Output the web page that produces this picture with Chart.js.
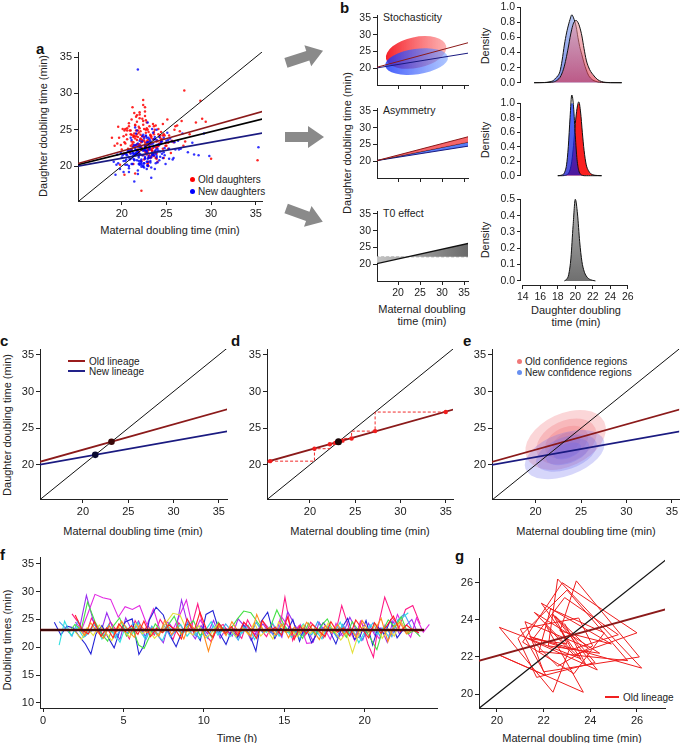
<!DOCTYPE html>
<html lang="en">
<head>
<meta charset="UTF-8">
<title>Doubling time inheritance</title>
<script src="https://cdn.jsdelivr.net/npm/chart.js"></script>
<style>
  * { margin: 0; padding: 0; box-sizing: border-box; }
  body { background: #fff; font-family: "Liberation Sans", Arial, Helvetica, sans-serif; color: #222; }
  #fig { position: relative; width: 680px; height: 743px; overflow: hidden; background: #fff; }
  #fig canvas { position: absolute; }
  .t { position: absolute; white-space: nowrap; font-size: 11px; line-height: 1; transform: translate(-50%, -50%); }
  .rot { transform: translate(-50%, -50%) rotate(-90deg); }
  .l { position: absolute; white-space: nowrap; font-size: 10.5px; line-height: 1; transform: translateY(-50%); }
  .tag { position: absolute; font-weight: bold; font-size: 15px; line-height: 1; color: #111; }
  .leg { position: absolute; white-space: nowrap; font-size: 10px; line-height: 1; transform: translateY(-50%); }
  .dot { display: inline-block; width: 5px; height: 5px; border-radius: 50%; margin-right: 3px; vertical-align: 1px; }
  .sw { display: inline-block; width: 17px; height: 2px; margin-right: 4px; vertical-align: 3px; }
</style>
</head>
<body>
<div id="fig">
  <svg width="680" height="743" style="position:absolute;left:0;top:0">
    <g fill="#8a8a8a">
      <polygon transform="rotate(-18 304 57)" points="285,52 308,52 308,46 324,57 308,68 308,62 285,62"/>
      <polygon points="285,132 308,132 308,126 324,137 308,148 308,142 285,142"/>
      <polygon transform="rotate(20 304 215)" points="285,210 308,210 308,204 324,215 308,226 308,220 285,220"/>
    </g>
  </svg>

  <!-- panel letters -->
  <div class="tag" style="left:36px;top:41px">a</div>
  <div class="tag" style="left:340px;top:0px">b</div>
  <div class="tag" style="left:0px;top:333px">c</div>
  <div class="tag" style="left:231px;top:333px">d</div>
  <div class="tag" style="left:463px;top:333px">e</div>
  <div class="tag" style="left:0px;top:547px">f</div>
  <div class="tag" style="left:455px;top:548px">g</div>

  <!-- axis titles -->
  <div class="t rot" style="left:43px;top:126px">Daughter doubling time (min)</div>
  <div class="t" style="left:170px;top:230px">Maternal doubling time (min)</div>
  <div class="t rot" style="left:347px;top:143px">Daughter doubling time (min)</div>
  <div class="t" style="left:422px;top:309px">Maternal doubling</div>
  <div class="t" style="left:422px;top:321px">time (min)</div>
  <div class="t rot" style="left:485px;top:46px">Density</div>
  <div class="t rot" style="left:485px;top:140px">Density</div>
  <div class="t rot" style="left:485px;top:240px">Density</div>
  <div class="t" style="left:576px;top:310px">Daughter doubling</div>
  <div class="t" style="left:576px;top:322px">time (min)</div>
  <div class="t rot" style="left:7px;top:425px">Daughter doubling time (min)</div>
  <div class="t" style="left:133px;top:531px">Maternal doubling time (min)</div>
  <div class="t" style="left:360px;top:531px">Maternal doubling time (min)</div>
  <div class="t" style="left:586px;top:531px">Maternal doubling time (min)</div>
  <div class="t rot" style="left:7px;top:640px">Doubling times (min)</div>
  <div class="t" style="left:237px;top:738px">Time (h)</div>
  <div class="t" style="left:572px;top:738px">Maternal doubling time (min)</div>

  <!-- in-plot titles -->
  <div class="l" style="left:383px;top:17px">Stochasticity</div>
  <div class="l" style="left:383px;top:110px">Asymmetry</div>
  <div class="l" style="left:383px;top:213px">T0 effect</div>

  <!-- legends -->
  <div class="leg" style="left:190px;top:180px"><span class="dot" style="background:#f00"></span>Old daughters</div>
  <div class="leg" style="left:190px;top:192px"><span class="dot" style="background:#00f"></span>New daughters</div>
  <div class="leg" style="left:68px;top:362px"><span class="sw" style="background:#9a1c1c"></span>Old lineage</div>
  <div class="leg" style="left:68px;top:372px"><span class="sw" style="background:#22228a"></span>New lineage</div>
  <div class="leg" style="left:517px;top:362px"><span class="dot" style="background:#f07878"></span>Old confidence regions</div>
  <div class="leg" style="left:517px;top:373px"><span class="dot" style="background:#6890f0"></span>New confidence regions</div>
  <div class="leg" style="left:605px;top:698px"><span class="sw" style="background:#f02020;width:14px"></span>Old lineage</div>
</div>

<script>
// ---------- data ----------
const axisEnds = [15, 36];

// panel a: single-cell doubling times (maternal x, daughter y)
const aOldX = [21.3, 22.8, 23.5, 20.9, 24.1, 22.2, 25.3, 21.7, 23.0, 22.5, 19.8, 24.6, 23.8, 21.1, 22.9, 26.2, 20.4, 23.3, 22.0, 24.9,
  21.9, 23.6, 20.7, 22.4, 25.8, 23.1, 21.5, 24.3, 22.7, 19.5, 23.9, 21.2, 22.6, 27.1, 20.2, 24.0, 22.1, 23.4, 21.0, 25.1,
  22.3, 20.8, 23.7, 24.7, 21.6, 22.9, 19.2, 23.2, 26.7, 21.4, 22.8, 24.4, 20.6, 23.5, 21.8, 25.5, 22.5, 20.1, 23.9, 28.3,
  22.0, 24.2, 21.3, 23.0, 19.9, 22.6, 25.0, 21.7, 23.6, 20.5, 24.8, 22.2, 21.1, 23.3, 26.0, 22.7, 20.3, 24.5, 21.9, 29.4,
  23.1, 21.6, 22.4, 24.1, 20.0, 23.8, 22.9, 21.2, 25.6, 22.1, 23.4, 20.9, 24.0, 21.5, 22.8, 27.6, 19.6, 23.7, 22.3, 21.0,
  24.3, 22.5, 20.6, 23.2, 21.8, 25.2, 22.0, 23.9, 21.4, 24.7, 18.9, 22.6, 23.5, 26.5, 21.1, 22.9, 20.4, 24.4, 23.0, 29.0,
  21.7, 23.3, 22.2, 20.8, 24.6, 22.7, 21.3, 25.9, 23.6, 20.2, 22.4, 24.9, 21.9, 23.1, 19.7, 26.9, 22.8, 35.2, 30.0, 28.8,
  27.0, 22.2, 20.3, 21.5,
  22.1, 22.9, 21.8, 23.4, 22.6, 21.5, 23.1, 22.3, 24.0, 21.9, 22.7, 23.6, 21.2, 22.4, 23.0, 22.0, 23.8, 21.7, 22.8, 23.3,
  22.5, 21.4, 23.7, 22.2, 22.9, 21.6, 23.2, 24.3, 22.6, 21.9, 23.5, 22.1, 20.9, 22.8, 23.9, 21.3, 22.4, 23.1, 21.8, 22.7,
  24.6, 22.0, 21.1, 23.4, 22.5, 20.6, 23.0, 22.3, 24.1, 21.5, 22.9, 23.6, 21.0, 22.2, 25.2, 21.7, 23.3, 22.6, 20.3, 24.4];
const aOldY = [23.3, 21.8, 25.8, 22.0, 25.1, 20.7, 24.2, 26.1, 22.2, 24.0, 20.2, 24.2, 25.6, 22.2, 20.4, 25.6, 23.1, 22.2, 27.1, 23.2,
  24.6, 21.8, 22.4, 25.7, 23.3, 21.2, 25.7, 24.2, 22.7, 23.1, 21.0, 22.7, 28.1, 23.4, 24.1, 22.7, 24.3, 21.6, 22.8, 26.4,
  22.4, 25.9, 22.0, 24.4, 24.9, 20.2, 22.8, 23.1, 26.2, 27.3, 21.6, 23.6, 25.2, 22.5, 24.0, 21.8, 23.5, 25.1, 21.7, 26.0,
  25.2, 23.1, 24.2, 20.6, 22.9, 26.9, 22.8, 23.0, 21.4, 24.3, 24.2, 22.2, 26.4, 21.2, 25.5, 21.8, 24.9, 23.7, 21.8, 26.1,
  21.5, 24.1, 26.2, 22.8, 22.3, 21.1, 25.0, 28.1, 23.5, 23.7, 22.1, 24.9, 20.6, 23.8, 23.4, 24.4, 25.4, 21.9, 23.6, 24.4,
  23.9, 20.9, 24.9, 24.3, 22.1, 22.4, 26.6, 23.4, 24.1, 21.1, 23.9, 27.5, 21.5, 24.8, 23.4, 22.2, 25.1, 23.4, 20.0, 26.5,
  24.4, 22.4, 23.4, 25.5, 22.4, 25.0, 20.3, 25.0, 24.7, 21.7, 29.1, 22.8, 22.9, 25.5, 23.9, 22.8, 22.9, 20.8, 21.0, 29.0,
  30.4, 16.6, 18.8, 19.0,
  23.8, 22.4, 24.9, 21.7, 23.2, 25.6, 22.9, 24.1, 23.5, 22.0, 26.3, 24.4, 23.0, 21.5, 24.7, 27.4, 22.6, 23.6, 25.2, 23.9,
  22.2, 24.5, 25.0, 23.3, 21.9, 26.8, 24.2, 23.1, 22.7, 25.4, 23.7, 24.8, 21.8, 26.0, 22.5, 24.0, 28.4, 23.4, 22.3, 24.6,
  25.8, 23.0, 24.3, 22.1, 25.1, 23.7, 21.2, 26.5, 24.4, 22.8, 23.6, 25.5, 24.9, 22.6, 23.2, 27.0, 24.1, 22.0, 23.3, 24.7];
const aNewX = [22.4, 21.1, 23.7, 20.5, 24.2, 22.9, 21.6, 25.1, 23.2, 19.9, 22.0, 24.8, 21.4, 23.5, 20.8, 26.3, 22.6, 21.9, 23.9, 20.2,
  24.5, 22.2, 21.3, 23.1, 19.6, 25.7, 22.8, 21.0, 23.8, 20.7, 22.5, 24.0, 21.7, 27.4, 23.3, 20.4, 22.1, 25.3, 21.5, 23.6,
  20.9, 22.7, 24.6, 21.2, 23.0, 19.3, 22.3, 26.0, 21.8, 23.4, 20.6, 24.3, 22.0, 21.4, 25.9, 22.9, 20.1, 23.7, 28.1, 21.6,
  23.2, 21.0, 22.6, 24.9, 20.3, 22.4, 23.9, 21.7, 19.8, 25.4, 22.8, 21.3, 23.5, 20.8, 24.1, 22.2, 26.8, 21.9, 23.0, 20.5,
  22.5, 24.4, 21.1, 23.3, 20.0, 22.9, 25.0, 21.5, 23.6, 19.5, 22.1, 24.7, 21.8, 23.1, 20.6, 26.4, 22.7, 21.2, 24.0, 29.2,
  21.4, 23.8, 22.3, 20.7, 24.5, 22.0, 21.0, 23.4, 25.6, 20.2, 22.8, 21.6, 23.2, 27.9, 22.5, 19.4, 24.2, 21.9, 23.7, 20.9,
  22.6, 24.8, 21.3, 23.0, 20.4, 25.2, 22.2, 21.7, 23.9, 19.1, 22.9, 24.3, 21.5, 28.6, 23.5, 20.8, 26.6, 35.3, 21.8, 29.8,
  21.8, 21.4, 23.3,
  22.3, 23.1, 21.7, 22.8, 23.6, 21.9, 22.5, 24.1, 22.0, 23.3, 21.4, 22.7, 23.9, 22.2, 21.6, 23.0, 22.6, 24.4, 21.8, 22.9,
  23.5, 22.1, 21.2, 22.4, 23.8, 22.6, 21.5, 23.2, 22.9, 24.7, 22.0, 21.9, 23.4, 22.3, 20.8, 22.8, 23.7, 21.7, 22.5, 25.3,
  22.2, 23.0, 21.3, 24.0, 22.7, 21.8, 23.5, 22.4, 20.5, 23.1, 22.6, 24.2, 21.6, 22.9, 23.3, 21.1, 22.1, 25.8, 22.8, 23.9];
const aNewY = [22.1, 20.3, 23.7, 20.9, 22.9, 20.1, 21.6, 24.6, 21.1, 21.8, 20.2, 22.5, 22.9, 21.7, 19.2, 23.5, 22.2, 20.7, 25.0, 20.7,
  23.4, 20.4, 21.5, 23.7, 20.4, 20.9, 23.9, 21.7, 21.7, 22.1, 19.8, 22.0, 24.9, 21.9, 23.2, 20.7, 22.6, 21.0, 21.7, 23.7,
  20.9, 24.2, 21.1, 21.8, 23.3, 18.8, 22.3, 22.3, 22.7, 25.1, 20.2, 22.0, 23.5, 20.8, 23.3, 20.1, 21.5, 24.0, 21.6, 22.2,
  23.5, 21.0, 22.8, 20.3, 21.7, 24.3, 21.2, 21.6, 19.6, 23.8, 22.1, 21.0, 24.6, 19.7, 23.0, 20.6, 24.5, 21.6, 21.1, 21.8,
  20.4, 23.1, 23.6, 21.3, 21.2, 20.0, 23.5, 25.3, 21.5, 21.6, 20.7, 23.9, 19.4, 22.5, 21.5, 22.3, 24.1, 20.3, 22.4, 24.5,
  21.6, 20.4, 23.4, 22.0, 21.7, 20.4, 23.9, 21.8, 23.4, 19.2, 23.2, 24.5, 20.5, 23.2, 22.3, 20.2, 24.0, 21.4, 19.6, 22.2,
  22.8, 21.5, 21.8, 23.9, 20.2, 23.6, 19.9, 22.0, 22.9, 20.6, 26.0, 21.3, 21.5, 21.5, 23.1, 20.0, 22.4, 22.6, 18.9, 21.4,
  33.3, 17.9, 18.4,
  21.5, 22.3, 20.8, 21.9, 22.7, 21.2, 20.4, 22.1, 21.7, 23.0, 20.9, 22.5, 21.4, 20.2, 21.8, 22.9, 21.1, 23.4, 22.0, 20.6,
  21.6, 22.8, 21.3, 19.9, 22.2, 21.0, 22.4, 20.7, 23.3, 21.9, 22.6, 20.3, 21.5, 24.1, 21.2, 19.6, 22.0, 21.7, 23.8, 22.4,
  20.9, 21.4, 22.7, 20.5, 22.1, 23.1, 21.8, 20.1, 21.6, 22.5, 21.3, 20.8, 22.9, 21.0, 19.8, 22.2, 21.6, 21.1, 20.6, 23.6];
const aOldFit = [20.33, 27.6];
const aAllFit = [20.17, 26.55];
const aNewFit = [19.98, 24.6];

// panel b, left column
const stochOldFit = [20.23, 27.64];
const stochNewFit = [20.06, 24.52];
const stochCx = [24.1, 24.2];
const stochCy = [24.7, 22.0];
const stochRx = [7.0, 7.2];
const stochRy = [4.6, 3.8];
const stochTilt = [-12, -8];
const asymOldFit = [20.13, 27.33];
const asymMidFit = [20.15, 25.73];
const asymNewFit = [20.16, 24.52];
const t0Fit = [20.14, 26.23];
const t0Level = [22.2, 22.2];

// panel b, right column: densities of daughter doubling time
const dens1X = [15.3, 16.5, 17.0, 17.5, 17.75, 18.0, 18.25, 18.5, 18.75, 19.0, 19.25, 19.4, 19.6, 19.8, 20.1, 20.3, 20.5, 20.75, 21.0, 21.25, 21.5, 21.75, 22.0, 22.5, 23.0, 23.5, 24.0, 25.3];
const dens1New = [0, 0.003, 0.01, 0.03, 0.06, 0.09, 0.15, 0.3, 0.5, 0.66, 0.78, 0.84, 0.9, 0.86, 0.74, 0.6, 0.48, 0.37, 0.26, 0.17, 0.1, 0.06, 0.035, 0.012, 0.004, 0.001, 0, 0];
const dens1Old = [0, 0.001, 0.004, 0.01, 0.02, 0.04, 0.07, 0.13, 0.22, 0.35, 0.5, 0.6, 0.71, 0.79, 0.825, 0.8, 0.74, 0.62, 0.45, 0.3, 0.21, 0.15, 0.11, 0.045, 0.015, 0.004, 0.001, 0];
const dens2X = [18.0, 18.5, 18.75, 19.0, 19.2, 19.4, 19.6, 19.8, 20.0, 20.2, 20.4, 20.6, 20.8, 21.0, 21.25, 21.5, 21.75, 22.0, 22.5, 23.0];
const dens2New = [0, 0.01, 0.04, 0.15, 0.4, 0.8, 1.12, 0.95, 0.55, 0.22, 0.07, 0.02, 0.005, 0, 0, 0, 0, 0, 0, 0];
const dens2Old = [0, 0, 0.002, 0.01, 0.03, 0.08, 0.2, 0.42, 0.72, 0.93, 1.02, 0.88, 0.6, 0.35, 0.15, 0.07, 0.03, 0.012, 0.003, 0];
const dens3X = [18.75, 19.0, 19.25, 19.5, 19.75, 20.0, 20.25, 20.5, 20.75, 21.0, 21.25, 21.5, 21.75, 22.0, 22.3];
const dens3 = [0, 0.01, 0.04, 0.14, 0.34, 0.5, 0.41, 0.24, 0.12, 0.06, 0.03, 0.015, 0.007, 0.003, 0];

// panels c-e: lineage fits
const oldLine = [20.33, 27.6];
const newLine = [19.96, 24.58];
const fixedX = [23.15, 21.36];
const cobLeftX = [15.6, 20.5, 20.5, 22.2, 22.2, 22.8, 22.8];
const cobLeftY = [20.5, 20.5, 22.2, 22.2, 22.8, 22.8, 23.0];
const cobRightX = [35.0, 27.2, 27.2, 24.6, 24.6, 23.6, 23.6];
const cobRightY = [27.2, 27.2, 24.6, 24.6, 23.6, 23.6, 23.3];
const cobDotX = [15.6, 20.5, 22.2, 22.8, 23.6, 24.6, 27.2, 35.0];
const cobDotY = [20.5, 22.2, 22.8, 23.0, 23.3, 23.6, 24.6, 27.2];
const eOldCx = [23.3, 23.4, 23.4, 23.4];
const eOldCy = [23.4, 23.2, 23.1, 23.0];
const eOldRx = [4.7, 3.5, 2.5, 1.6];
const eOldRy = [3.6, 2.8, 2.0, 1.3];
const eOldTilt = [-25, -25, -25, -25];
const eNewCx = [23.2, 23.4, 23.5, 23.5];
const eNewCy = [21.4, 21.6, 21.8, 21.9];
const eNewRx = [4.6, 3.5, 2.5, 1.6];
const eNewRy = [2.9, 2.2, 1.6, 1.0];
const eNewTilt = [-20, -20, -20, -20];

// panel f: doubling times along lineages (start time in h, then successive doubling times in min)
const fStarts = [2.0, 2.2, 2.0, 1.6, 1.0, 1.0, 0.7, 2.3, 2.0, 1.8];
const fRed = [25.8, 23.1, 22.4, 24.6, 22.0, 23.5, 21.7, 24.2, 22.8, 23.9, 22.3, 24.7, 21.9, 23.4, 22.6, 24.0, 23.2, 21.5, 25.1, 22.7, 26.3, 23.0, 21.8, 24.3, 22.5, 23.7, 22.1, 24.5, 23.3, 21.6, 24.8, 22.9, 23.6, 22.2, 25.4, 21.4, 23.8, 22.4, 24.1, 23.0, 21.9, 24.6, 22.7, 23.5, 22.0, 24.9, 23.2, 21.7, 24.4, 22.5, 23.9, 25.6, 22.8, 24.0, 23.1, 22.6];
const fOrange = [23.5, 22.1, 24.4, 22.8, 21.6, 23.9, 22.5, 24.7, 23.0, 21.8, 24.1, 22.6, 23.4, 22.0, 24.9, 22.3, 23.7, 21.5, 24.3, 22.9, 23.2, 19.3, 22.4, 23.8, 22.1, 24.6, 22.7, 23.3, 21.9, 25.9, 22.8, 23.5, 22.2, 24.2, 21.7, 23.6, 22.5, 24.5, 23.0, 21.4, 23.9, 22.6, 24.1, 22.3, 23.4, 21.8, 24.8, 22.9, 23.1, 25.2, 21.0, 23.7, 24.5, 22.4, 23.2];
const fYellow = [22.8, 21.4, 23.5, 22.1, 24.0, 22.6, 21.2, 23.7, 22.9, 21.8, 24.2, 22.4, 23.3, 21.6, 22.7, 24.5, 26.1, 25.8, 23.0, 22.2, 23.9, 21.7, 22.5, 24.1, 22.8, 23.4, 21.9, 23.6, 22.3, 24.4, 22.0, 23.2, 21.5, 24.6, 22.7, 23.1, 21.9, 24.0, 22.4, 23.5, 22.1, 24.3, 22.9, 21.3, 22.6, 19.0, 21.8, 23.7, 22.5, 24.2, 21.6, 23.3, 22.0, 24.8, 22.7, 23.4];
const fGreen = [22.6, 24.1, 23.2, 28.1, 24.6, 22.4, 21.1, 23.8, 25.3, 22.0, 23.5, 20.4, 19.8, 21.9, 24.2, 22.7, 23.9, 25.6, 22.3, 23.6, 24.8, 22.1, 23.4, 21.7, 24.5, 22.9, 23.3, 25.0, 26.5, 26.2, 24.4, 22.8, 23.7, 26.7, 24.0, 22.5, 23.1, 21.6, 24.3, 22.2, 23.8, 25.1, 22.6, 23.5, 21.8, 24.6, 22.9, 23.2, 21.4, 19.6, 22.8, 24.9, 23.6, 25.5, 22.4, 23.0, 21.9];
const fCyan = [20.4, 24.7, 22.1, 23.6, 21.8, 22.9, 24.3, 21.5, 23.2, 22.6, 20.9, 23.8, 22.3, 24.5, 21.7, 23.0, 22.4, 21.2, 23.7, 22.8, 24.1, 22.0, 23.4, 21.6, 22.9, 24.6, 22.2, 23.5, 21.9, 23.1, 22.5, 24.0, 21.4, 23.3, 22.7, 24.4, 22.0, 23.6, 21.8, 22.9, 24.2, 22.4, 23.0, 21.5, 23.8, 22.6, 24.5, 21.9, 23.2, 20.8, 22.7, 24.0, 22.3, 23.5, 21.7, 24.3, 25.2, 26.2];
const fSky = [24.6, 23.4, 22.0, 24.8, 21.9, 22.8, 23.6, 22.2, 24.1, 21.7, 23.3, 22.5, 24.4, 22.9, 21.4, 23.8, 22.3, 24.0, 21.8, 23.1, 22.6, 24.7, 22.1, 23.5, 21.6, 23.9, 22.4, 24.2, 22.8, 21.3, 23.7, 22.0, 24.5, 22.6, 23.2, 21.9, 24.3, 22.7, 23.4, 21.5, 23.0, 22.2, 24.6, 22.9, 23.6, 21.8, 24.1, 22.4, 23.3, 21.2, 22.8, 24.4, 22.1, 23.7, 21.9, 24.9, 26.0, 23.5];
const fBlue = [24.5, 22.2, 23.8, 23.5, 21.9, 20.6, 18.8, 22.4, 23.9, 21.7, 19.9, 22.8, 24.6, 25.1, 18.7, 20.3, 24.9, 27.2, 25.8, 22.0, 20.1, 22.6, 24.3, 23.1, 21.2, 25.9, 26.6, 22.4, 20.5, 23.0, 21.8, 24.0, 22.1, 19.3, 24.6, 26.3, 21.6, 23.4, 22.7, 25.0, 21.1, 23.9, 20.8, 22.5, 24.4, 22.9, 20.6, 23.3, 25.2, 21.4, 22.0, 24.8, 20.4, 23.6, 22.3, 24.9, 21.7, 23.1, 22.5];
const fPurple = [23.8, 29.3, 24.1, 22.6, 26.2, 23.0, 21.4, 25.3, 22.8, 24.7, 21.9, 23.5, 22.2, 20.8, 24.4, 22.7, 28.5, 23.1, 21.5, 23.9, 22.4, 24.8, 21.6, 23.3, 22.0, 25.1, 23.7, 21.2, 22.9, 24.2, 22.5, 23.6, 21.8, 26.4, 24.0, 22.3, 23.2, 21.0, 24.5, 22.6, 23.4, 21.7, 22.8, 25.4, 23.0, 21.3, 24.3, 22.1, 23.5, 20.9, 24.7, 22.4, 23.8, 25.0, 22.2];
const fMagenta = [24.5, 23.2, 26.1, 29.5, 28.9, 28.6, 25.4, 27.3, 26.8, 27.5, 24.0, 26.9, 22.7, 24.6, 23.3, 25.7, 28.5, 22.4, 24.9, 23.1, 21.6, 24.2, 22.8, 23.7, 21.9, 24.5, 23.0, 22.2, 24.8, 23.4, 21.7, 25.6, 23.9, 22.5, 24.1, 20.7, 20.8, 22.9, 23.6, 21.4, 24.3, 22.0, 23.5, 21.2, 24.7, 22.6, 23.1, 21.5, 24.0, 22.3, 25.9, 23.4, 21.8, 25.3, 22.7, 24.1];
const fPink = [26.0, 24.3, 22.1, 25.2, 23.4, 21.8, 24.6, 22.9, 23.7, 21.5, 24.8, 22.6, 23.9, 22.2, 25.0, 23.1, 21.4, 24.4, 22.7, 23.6, 27.8, 22.3, 21.0, 23.5, 24.1, 22.4, 23.0, 21.6, 24.9, 22.8, 23.3, 21.9, 24.2, 22.5, 29.0, 21.2, 23.8, 22.0, 24.5, 23.2, 21.7, 24.0, 22.6, 27.5, 23.4, 22.1, 24.7, 20.6, 18.2, 23.9, 29.0, 25.3, 23.6, 26.8, 27.5, 24.2];
const fMean = [23.1, 23.1];
const fMeanX = [-0.2, 23.7];

// panel g: successive doubling times of one old lineage
const gOld = [22.9, 23.8, 21.6, 24.4, 22.2, 22.6, 26.2, 21.4, 23.1, 22.4, 20.1, 23.6, 21.9, 24.9, 22.7, 23.4, 26.1, 22.0, 21.2, 23.9, 22.5, 24.2, 21.7, 20.9, 23.0, 25.6, 21.8, 22.3, 24.6, 23.3, 21.1, 22.8, 26.0, 23.3, 22.1, 23.7, 20.1, 22.1, 21.0, 23.5, 24.1, 22.6, 21.5, 22.9, 25.2, 23.2, 22.4, 24.3, 21.3, 23.0, 22.7, 23.6];

// ---------- drawing ----------
const FONT = '"Liberation Sans", Arial, Helvetica, sans-serif';
const INK = '#222';
Chart.defaults.font.family = FONT;
Chart.defaults.color = INK;

const pts = (xs, ys) => xs.map((x, i) => ({ x, y: ys[i] }));
const line = (data, color, width, extra = {}) => Object.assign({
  data, showLine: true, borderColor: color, borderWidth: width, pointRadius: 0, fill: false, order: 1
}, extra);

function axis(min, max, ticks, o = {}) {
  return {
    type: 'linear', min, max,
    display: o.display !== false,
    afterBuildTicks: s => { s.ticks = ticks.map(v => ({ value: v })); },
    ticks: {
      display: o.labels !== false, color: INK, padding: 2, autoSkip: false, maxRotation: 0,
      font: { size: o.size || 11 }, callback: o.fmt || (v => v)
    },
    grid: { drawOnChartArea: false, drawTicks: true, tickLength: 4, color: INK, lineWidth: 1 },
    border: { display: o.border !== false, color: INK, width: 1 }
  };
}

// draws an axis line only between the first and last tick (R style)
const spanAxis = {
  id: 'spanAxis',
  afterDraw(chart) {
    const { ctx, chartArea: a } = chart;
    ctx.save();
    ctx.strokeStyle = INK; ctx.lineWidth = 1;
    ['x', 'y'].forEach(k => {
      const s = chart.scales[k];
      if (!s.options.display || s.options.border.display) return;
      const first = s.getPixelForValue(s.ticks[0].value), last = s.getPixelForValue(s.ticks[s.ticks.length - 1].value);
      ctx.beginPath();
      if (k === 'y') { ctx.moveTo(a.left - 0.5, first); ctx.lineTo(a.left - 0.5, last); }
      else { ctx.moveTo(first, a.bottom + 0.5); ctx.lineTo(last, a.bottom + 0.5); }
      ctx.stroke();
    });
    ctx.restore();
  }
};

function ellipses(cx, cy, rx, ry, tilt, fillFor) {
  return {
    id: 'ellipses',
    beforeDatasetsDraw(chart) {
      const { ctx, chartArea: a, scales: { x, y } } = chart;
      ctx.save();
      ctx.beginPath(); ctx.rect(a.left, a.top, a.width, a.height); ctx.clip();
      cx.forEach((v, i) => {
        const px = x.getPixelForValue(v), py = y.getPixelForValue(cy[i]);
        const rpx = Math.abs(x.getPixelForValue(v + rx[i]) - px), rpy = Math.abs(y.getPixelForValue(cy[i] + ry[i]) - py);
        ctx.beginPath();
        ctx.ellipse(px, py, rpx, rpy, tilt[i] * Math.PI / 180, 0, 2 * Math.PI);
        ctx.fillStyle = fillFor(ctx, i, px, py, rpx, rpy);
        ctx.fill();
      });
      ctx.restore();
    }
  };
}

function panel(area, m, datasets, x, y, plugins = []) {
  const cv = document.createElement('canvas');
  const w = area.r - area.l + m.l + m.r, h = area.b - area.t + m.t + m.b;
  cv.width = w; cv.height = h;
  cv.style.left = (area.l - m.l) + 'px'; cv.style.top = (area.t - m.t) + 'px';
  cv.style.width = w + 'px'; cv.style.height = h + 'px';
  document.getElementById('fig').appendChild(cv);
  if (x.display !== false) x.afterFit = s => { s.height = m.b; };
  if (y.display !== false) y.afterFit = s => { s.width = m.l; };
  return new Chart(cv, {
    type: 'scatter',
    data: { datasets },
    options: {
      responsive: false, animation: false, devicePixelRatio: 1,
      layout: { autoPadding: false, padding: { top: m.t, right: m.r, left: y.display === false ? m.l : 0, bottom: x.display === false ? m.b : 0 } },
      plugins: { legend: { display: false }, tooltip: { enabled: false } },
      scales: { x, y }
    },
    plugins: [spanAxis, ...plugins]
  });
}

const M = { l: 40, t: 10, r: 12, b: 24 };
const T5 = [20, 25, 30, 35];
const diag = line(pts(axisEnds, axisEnds), '#111', 1);
const OLD_C = '#8b1a1a', NEW_C = '#1a1a80';

// ---- a ----
panel({ l: 78, r: 262, t: 52, b: 201 }, M, [
  diag,
  line(pts(axisEnds, aOldFit), OLD_C, 1.6),
  line(pts(axisEnds, aAllFit), '#000', 1.6),
  line(pts(axisEnds, aNewFit), NEW_C, 1.6),
  { data: pts(aOldX, aOldY), pointRadius: 1.25, pointBackgroundColor: 'rgba(255,0,0,0.85)', pointBorderWidth: 0, order: 6 },
  { data: pts(aNewX, aNewY), pointRadius: 1.25, pointBackgroundColor: 'rgba(0,0,255,0.8)', pointBorderWidth: 0, order: 5 }
], axis(15.1, 35.7, T5), axis(15.2, 35.7, T5));

// ---- b, left column ----
const BM = { l: 30, t: 6, r: 8, b: 20 };
const bx = labels => axis(15.2, 35.9, T5, { labels, size: 10.5 });
const by = () => axis(15, 35.8, T5, { size: 10.5 });
const stochFill = (ctx, i, px, py, rx) => {
  const g = ctx.createLinearGradient(px - rx, 0, px + rx, 0);
  if (i === 0) { g.addColorStop(0, 'rgba(245,20,30,0.95)'); g.addColorStop(1, 'rgba(252,160,160,0.8)'); }
  else { g.addColorStop(0, 'rgba(20,50,250,0.8)'); g.addColorStop(1, 'rgba(120,160,255,0.6)'); }
  return g;
};
panel({ l: 377, r: 468, t: 13, b: 85 }, BM, [
  line(pts(axisEnds, stochOldFit), OLD_C, 1),
  line(pts(axisEnds, stochNewFit), NEW_C, 1)
], bx(false), by(), [ellipses(stochCx, stochCy, stochRx, stochRy, stochTilt, stochFill)]);

panel({ l: 377, r: 468, t: 106, b: 178 }, BM, [
  line(pts(axisEnds, asymOldFit), OLD_C, 1, { fill: { target: 1 }, backgroundColor: 'rgba(245,85,90,0.9)' }),
  line(pts(axisEnds, asymMidFit), '#1a1020', 1),
  line(pts(axisEnds, asymNewFit), NEW_C, 1, { fill: { target: 1 }, backgroundColor: 'rgba(70,110,245,0.9)' })
], bx(false), by());

const grayGrad = c => {
  const a = c.chart.chartArea; if (!a) return '#999';
  const g = c.chart.ctx.createLinearGradient(a.left, 0, a.right, 0);
  g.addColorStop(0, '#c4c4c4'); g.addColorStop(1, '#6a6a6a');
  return g;
};
panel({ l: 377, r: 468, t: 209, b: 281 }, BM, [
  line(pts(axisEnds, t0Fit), '#111', 1.3, { fill: { target: 1 }, backgroundColor: grayGrad }),
  line(pts(axisEnds, t0Level), '#aaa', 1, { borderDash: [3, 2] })
], bx(true), by());

// ---- b, right column: densities ----
const DM = { l: 36, t: 8, r: 10, b: 6 };
const vGrad = (top, bottom) => c => {
  const a = c.chart.chartArea; if (!a) return bottom;
  const g = c.chart.ctx.createLinearGradient(0, a.top, 0, a.bottom);
  g.addColorStop(0, top); g.addColorStop(1, bottom);
  return g;
};
const dens = (xs, ys, bg, order) => line(pts(xs, ys), '#111', 1, { fill: 'origin', backgroundColor: bg, cubicInterpolationMode: 'monotone', clip: false, order });
const densX = (display) => axis(13.8, 27.5, [14, 16, 18, 20, 22, 24, 26], { display, border: false, size: 10.5 });
const densY = (max, ticks, min = 0) => axis(min, max, ticks, { border: false, size: 10.5, fmt: v => v.toFixed(1) });
const D10 = [0, 0.2, 0.4, 0.6, 0.8, 1.0];

panel({ l: 521, r: 641, t: 7, b: 85 }, DM, [
  dens(dens1X, dens1New, vGrad('rgba(180,198,242,0.95)', 'rgba(120,140,232,0.95)'), 2),
  dens(dens1X, dens1Old, vGrad('rgba(240,175,180,0.55)', 'rgba(225,55,75,0.62)'), 1)
], densX(false), densY(1.0, D10));

panel({ l: 521, r: 641, t: 103, b: 178 }, DM, [
  dens(dens2X, dens2Old, 'rgba(250,20,20,0.95)', 2),
  dens(dens2X, dens2New, vGrad('rgba(30,70,255,0.8)', 'rgba(20,20,200,0.75)'), 1)
], densX(false), densY(1.0, D10));

panel({ l: 521, r: 641, t: 199, b: 285 }, { l: 36, t: 8, r: 10, b: 20 }, [
  dens(dens3X, dens3, vGrad('#b4b4b4', '#6c6c6c'), 1)
], densX(true), densY(0.5, [0, 0.1, 0.2, 0.3, 0.4, 0.5], -0.025));

// ---- c ----
const CM = { l: 40, t: 10, r: 12, b: 24 };
panel({ l: 40, r: 227, t: 349, b: 499 }, CM, [
  diag,
  line(pts(axisEnds, oldLine), OLD_C, 1.8),
  line(pts(axisEnds, newLine), NEW_C, 1.8),
  { data: [{ x: fixedX[0], y: fixedX[0] }], pointRadius: 3.3, pointBackgroundColor: '#3a0808', pointBorderWidth: 0, order: 0 },
  { data: [{ x: fixedX[1], y: fixedX[1] }], pointRadius: 3.3, pointBackgroundColor: '#080830', pointBorderWidth: 0, order: 0 }
], axis(15.26, 35.9, T5), axis(15.34, 35.8, T5));

// ---- d ----
const cobweb = (xs, ys) => line(pts(xs, ys), 'rgba(240,30,30,0.95)', 1, { borderDash: [3, 2], order: 0 });
panel({ l: 267, r: 453, t: 349, b: 499 }, CM, [
  diag,
  line(pts(axisEnds, oldLine), OLD_C, 1.8, { order: 2 }),
  cobweb(cobLeftX, cobLeftY),
  cobweb(cobRightX, cobRightY),
  { data: pts(cobDotX, cobDotY), pointRadius: 2.2, pointBackgroundColor: '#f01e1e', pointBorderWidth: 0, order: 0 },
  { data: [{ x: fixedX[0], y: fixedX[0] }], pointRadius: 3.5, pointBackgroundColor: '#1a0505', pointBorderWidth: 0, order: -1 }
], axis(15.26, 35.8, T5), axis(15.34, 35.8, T5));

// ---- e ----
const confFill = (ctx, i) => i < 4 ? 'rgba(240,105,110,0.27)' : 'rgba(105,105,235,0.27)';
panel({ l: 492, r: 680, t: 349, b: 499 }, { l: 40, t: 10, r: 0, b: 24 }, [
  diag,
  line(pts(axisEnds, oldLine), OLD_C, 1.8),
  line(pts(axisEnds, newLine), NEW_C, 1.8)
], axis(15.2, 35.8, T5), axis(15.34, 35.8, T5),
  [ellipses(eOldCx.concat(eNewCx), eOldCy.concat(eNewCy), eOldRx.concat(eNewRx), eOldRy.concat(eNewRy), eOldTilt.concat(eNewTilt), confFill)]);

// ---- f ----
function timeline(start, vals) {
  let t = start;
  return vals.map(v => { const p = { x: t, y: v }; t += v / 60; return p; });
}
const fSeries = [fRed, fOrange, fYellow, fGreen, fCyan, fSky, fBlue, fPurple, fMagenta, fPink];
const fColors = ['#ff2020', '#ff8a1c', '#e4e03c', '#46e046', '#2ee0e0', '#3ca6f2', '#2424d6', '#9a2ef0', '#e228e2', '#ff1a86'];
panel({ l: 40, r: 437, t: 557, b: 708 }, { l: 34, t: 8, r: 10, b: 24 }, [
  ...fSeries.map((s, i) => line(timeline(fStarts[i], s), fColors[i], 1.1, { order: 3 })),
  line(pts(fMeanX, fMean), '#6e1010', 2.6, { order: 1 }),
  line(pts(fMeanX, fMean), '#000', 0.8, { order: 0 })
], axis(-0.19, 24.5, [0, 5, 10, 15, 20]), axis(9.1, 36.1, [10, 15, 20, 25, 30, 35]));

// ---- g ----
const gPath = gOld.slice(0, -1).map((v, i) => ({ x: v, y: gOld[i + 1] }));
panel({ l: 479, r: 665, t: 558, b: 708 }, { l: 34, t: 8, r: 12, b: 24 }, [
  line(gPath, '#ee1c1c', 1, { order: 3 }),
  line(pts(axisEnds, axisEnds), '#111', 1.2, { order: 2 }),
  line(pts(axisEnds, oldLine), OLD_C, 2, { order: 1 })
], axis(19.23, 27.2, [20, 22, 24, 26]), axis(19.25, 27.3, [20, 22, 24, 26]));
</script>
</body>
</html>
